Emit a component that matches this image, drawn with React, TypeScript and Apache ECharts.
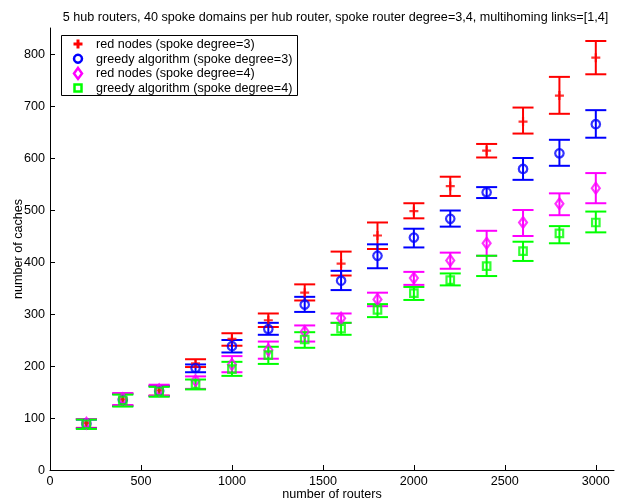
import React, { useEffect, useRef } from 'react';
import * as echarts from 'echarts';

const routers = [200, 400, 600, 800, 1000, 1200, 1400, 1600, 1800, 2000, 2200, 2400, 2600, 2800, 3000];

const redMean = [90, 136, 153, 205, 252, 288, 341, 397, 451, 498, 546, 614, 670, 720, 793];
const redLow = [81, 124, 143, 198, 239, 275, 326, 374, 425, 484, 527, 601, 647, 685, 761];
const redHigh = [98, 147, 162, 213, 263, 301, 357, 420, 476, 513, 564, 627, 697, 756, 825];

const blueMean = [89, 135, 152, 196, 238, 271, 318, 364, 412, 447, 483, 534, 579, 609, 665];
const blueLow = [80, 123, 142, 188, 226, 260, 304, 346, 388, 428, 468, 523, 558, 585, 639];
const blueHigh = [97, 146, 161, 203, 250, 283, 333, 383, 434, 464, 499, 544, 600, 635, 692];

const magMean = [90, 137, 154, 172, 203, 231, 266, 292, 328, 369, 403, 436, 476, 512, 542];
const magLow = [80, 125, 143, 156, 188, 214, 247, 283, 315, 356, 387, 412, 450, 490, 513];
const magHigh = [98, 148, 164, 180, 219, 247, 278, 301, 341, 381, 418, 460, 500, 532, 571];

const greenMean = [88, 134, 151, 165, 194, 221, 251, 272, 308, 340, 365, 392, 421, 455, 476];
const greenLow = [79, 122, 141, 155, 181, 204, 235, 260, 294, 327, 355, 373, 402, 436, 457];
const greenHigh = [97, 145, 160, 174, 208, 237, 265, 283, 319, 352, 378, 412, 439, 469, 497];

const seriesNames = [
  'red nodes (spoke degree=3)',
  'greedy algorithm (spoke degree=3)',
  'red nodes (spoke degree=4)',
  'greedy algorithm (spoke degree=4)',
];

const xTicks = [0, 500, 1000, 1500, 2000, 2500, 3000];
const yTicks = [0, 100, 200, 300, 400, 500, 600, 700, 800];

const FONT = 'Liberation Sans, Arial, Helvetica, sans-serif';
const FS = 12.6;

const PLUS = 'path://M5,0L5,10M0,5L10,5';

function legendMarker(kind: string, cx: number, cy: number, color: string): any {
  const style = { stroke: color, lineWidth: 2.5, fill: null };
  if (kind === 'plus') {
    return {
      type: 'group',
      children: [
        { type: 'line', shape: { x1: cx - 4.5, y1: cy, x2: cx + 4.5, y2: cy }, style: { stroke: color, lineWidth: 3 } },
        { type: 'line', shape: { x1: cx, y1: cy - 4.5, x2: cx, y2: cy + 4.5 }, style: { stroke: color, lineWidth: 3 } },
      ],
    };
  }
  if (kind === 'circle') return { type: 'circle', shape: { cx, cy, r: 4 }, style };
  if (kind === 'diamond')
    return {
      type: 'polygon',
      shape: { points: [[cx, cy - 5.5], [cx + 4, cy], [cx, cy + 5.5], [cx - 4, cy]] },
      style,
    };
  return { type: 'rect', shape: { x: cx - 3.5, y: cy - 3.5, width: 7, height: 7 }, style };
}

export default function App() {
  const ref = useRef<HTMLDivElement>(null);
  useEffect(() => {
    if (!ref.current) return;
    const chart = echarts.init(ref.current, undefined, { renderer: 'svg' });

    const defs = [
      { name: seriesNames[0], color: '#ff0000', mean: redMean, low: redLow, high: redHigh, symbol: PLUS, size: 9, kind: 'plus' },
      { name: seriesNames[1], color: '#0000ff', mean: blueMean, low: blueLow, high: blueHigh, symbol: 'circle', size: 8.5, kind: 'circle' },
      { name: seriesNames[2], color: '#ff00ff', mean: magMean, low: magLow, high: magHigh, symbol: 'diamond', size: [8, 11], kind: 'diamond' },
      { name: seriesNames[3], color: '#00ff00', mean: greenMean, low: greenLow, high: greenHigh, symbol: 'rect', size: 7.5, kind: 'rect' },
    ];

    const series: any[] = [];
    defs.forEach((d, k) => {
      series.push({
        type: 'custom',
        name: 'eb' + k,
        data: routers.map((x, i) => [x, d.low[i], d.high[i]]),
        encode: { x: 0, y: [1, 2] },
        renderItem: (params: any, api: any) => {
          const x = api.value(0);
          const pLo = api.coord([x, api.value(1)]);
          const pHi = api.coord([x, api.value(2)]);
          const hw = 10.5;
          const style = { stroke: d.color, lineWidth: 2, fill: null };
          return {
            type: 'group',
            children: [
              { type: 'line', shape: { x1: pLo[0], y1: pLo[1], x2: pHi[0], y2: pHi[1] }, style },
              { type: 'line', shape: { x1: pLo[0] - hw, y1: pLo[1], x2: pLo[0] + hw, y2: pLo[1] }, style },
              { type: 'line', shape: { x1: pHi[0] - hw, y1: pHi[1], x2: pHi[0] + hw, y2: pHi[1] }, style },
            ],
          };
        },
        silent: true,
      });
      series.push({
        type: 'scatter',
        name: d.name,
        data: routers.map((x, i) => [x, d.mean[i]]),
        symbol: d.symbol,
        symbolSize: d.size,
        itemStyle: { color: 'rgba(0,0,0,0)', borderColor: d.color, borderWidth: 2.2 },
      });
    });

    const legendX = 61;
    const legendY = 35;
    const rowH = 14.7;
    const legendChildren: any[] = [
      {
        type: 'rect',
        shape: { x: legendX + 0.5, y: legendY + 0.5, width: 236, height: 60 },
        style: { fill: '#fff', stroke: '#000', lineWidth: 1 },
      },
    ];
    defs.forEach((d, k) => {
      const cy = legendY + 9 + k * rowH;
      legendChildren.push(legendMarker(d.kind, 78, cy, d.color));
      legendChildren.push({
        type: 'text',
        x: 96,
        y: cy,
        style: {
          text: d.name,
          fontFamily: FONT,
          fontSize: FS,
          fill: '#000',
          verticalAlign: 'middle',
          align: 'left',
        },
      });
    });

    chart.setOption({
      animation: false,
      title: {
        text: '5 hub routers, 40 spoke domains per hub router, spoke router degree=3,4, multihoming links=[1,4]',
        left: 330.5,
        textAlign: 'center',
        top: 5,
        textStyle: { fontFamily: FONT, fontSize: FS, fontWeight: 'normal', color: '#000' },
      },
      graphic: [{ type: 'group', z: 100, children: legendChildren }],
      grid: { left: 50, right: 5, top: 28, bottom: 34, containLabel: false, outerBoundsMode: 'none' },
      xAxis: {
        type: 'value',
        min: 0,
        max: 3100,
        interval: 500,
        name: 'number of routers',
        nameLocation: 'middle',
        nameGap: 17,
        nameMoveOverlap: false,
        nameTextStyle: { fontFamily: FONT, fontSize: FS, color: '#000' },
        splitLine: { show: false },
        axisLine: { lineStyle: { color: '#000', width: 1 } },
        axisTick: { inside: true, length: 5, lineStyle: { color: '#000' }, customValues: xTicks },
        axisLabel: {
          customValues: xTicks,
          margin: 4,
          fontFamily: FONT,
          fontSize: FS,
          color: '#000',
          formatter: (v: number) => String(v),
        },
      },
      yAxis: {
        type: 'value',
        min: 0,
        max: 850,
        interval: 50,
        name: 'number of caches',
        nameLocation: 'middle',
        nameGap: 26,
        nameMoveOverlap: false,
        nameTextStyle: { fontFamily: FONT, fontSize: FS, color: '#000' },
        splitLine: { show: false },
        axisLine: { show: true, lineStyle: { color: '#000', width: 1 } },
        axisTick: { show: true, inside: true, length: 5, lineStyle: { color: '#000' }, customValues: yTicks },
        axisLabel: {
          customValues: yTicks,
          margin: 5,
          fontFamily: FONT,
          fontSize: FS,
          color: '#000',
          formatter: (v: number) => String(v),
        },
      },
      series,
    });
    return () => chart.dispose();
  }, []);
  return <div ref={ref} style={{ position: 'fixed', left: 0, top: 0, width: 619, height: 504 }} />;
}
